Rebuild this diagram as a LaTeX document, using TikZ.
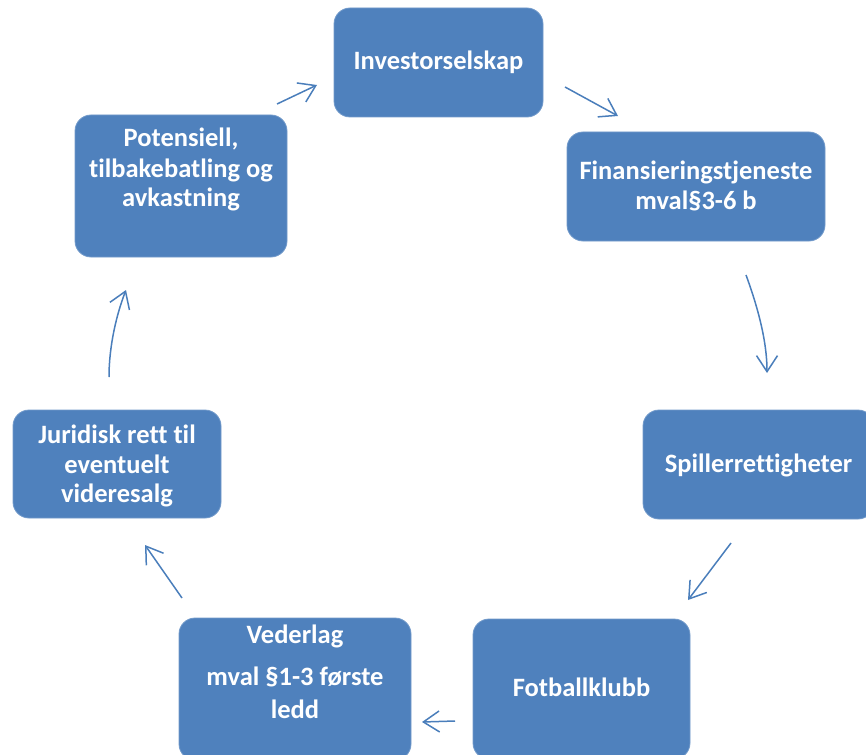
\documentclass[tikz,border=0pt]{standalone}
\usepackage{fontspec}
\setmainfont{Carlito}[Ligatures=NoCommon]
\usetikzlibrary{arrows.meta}
\definecolor{boxblue}{HTML}{4F81BD}
\definecolor{arrowblue}{HTML}{4A7EBB}
\begin{document}
\begin{tikzpicture}[x=1pt,y=-1pt,
  card/.style={fill=boxblue, draw=boxblue!80!white, line width=0.8pt,
    rounded corners=16pt, inner sep=0pt},
  cardtext/.style={text=white, font=\fontsize{26.5}{32}\selectfont\bfseries,
    anchor=base, inner sep=0pt},
  flow/.style={draw=arrowblue, line width=1.5pt,
    -{Straight Barb[length=16pt,width=21pt,line width=1.5pt]}}]
\useasboundingbox (0,0) rectangle (866,754);

% boxes of the cycle
\node[card, minimum width=209pt, minimum height=109pt] (inv) at (438.5,62.5) {};
\node[card, minimum width=258pt, minimum height=109pt] (fin) at (696,186.5) {};
\node[card, minimum width=231pt, minimum height=109pt] (spi) at (758.5,464.5) {};
\node[card, minimum width=217pt, minimum height=140pt] (fot) at (581.5,689) {};
\node[card, minimum width=232pt, minimum height=142pt] (ved) at (295,689) {};
\node[card, minimum width=208pt, minimum height=108pt] (jur) at (117,464) {};
\node[card, minimum width=212pt, minimum height=142pt] (pot) at (181,186) {};

% box texts, one node per line
\node[cardtext] (inv1) at (438.5,70) {Investorselskap};
\node[cardtext] (fin1) at (696,179) {Finansieringstjeneste};
\node[cardtext] (fin2) at (696,209) {mval§3-6 b};
\node[cardtext] (spi1) at (758.5,472) {Spillerrettigheter};
\node[cardtext] (fot1) at (581.5,696) {Fotballklubb};
\node[cardtext] (ved1) at (295,643) {Vederlag};
\node[cardtext] (ved2) at (295,685) {mval §1-3 første};
\node[cardtext] (ved3) at (295,718) {ledd};
\node[cardtext] (jur1) at (117,443) {Juridisk rett til};
\node[cardtext] (jur2) at (117,473) {eventuelt};
\node[cardtext] (jur3) at (117,502) {videresalg};
\node[cardtext] (pot1) at (181,147) {Potensiell,};
\node[cardtext] (pot2) at (181,177) {tilbakebatling og};
\node[cardtext] (pot3) at (181,206) {avkastning};

% arrow end points between the boxes
\coordinate (a1s) at (277,104); \coordinate (a1e) at (317,85);
\coordinate (a2s) at (565,87);  \coordinate (a2e) at (618,116);
\coordinate (a3s) at (746,275); \coordinate (a3e) at (767,373);
\coordinate (a4s) at (731,543); \coordinate (a4e) at (688,600);
\coordinate (a5s) at (455,721); \coordinate (a5e) at (422,722);
\coordinate (a6s) at (182,598); \coordinate (a6e) at (145,545);
\coordinate (a7s) at (109,377); \coordinate (a7e) at (126,290);

\draw[flow] (a1s) -- (a1e);
\draw[flow] (a2s) -- (a2e);
\draw[flow] (a3s) .. controls (757,305) and (767,340) .. (a3e);
\draw[flow] (a4s) -- (a4e);
\draw[flow] (a5s) -- (a5e);
\draw[flow] (a6s) -- (a6e);
\draw[flow] (a7s) .. controls (109,345) and (117,313) .. (a7e);
\end{tikzpicture}
\end{document}
